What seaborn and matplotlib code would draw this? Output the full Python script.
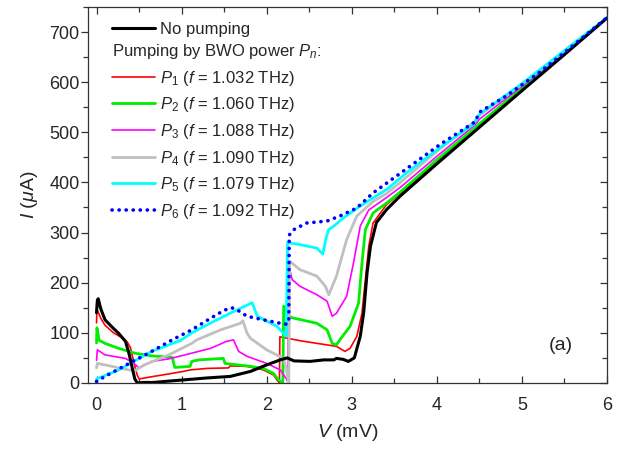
import numpy as np
import pandas as pd
import matplotlib
matplotlib.use("Agg")
import matplotlib.pyplot as plt
from matplotlib.lines import Line2D
from matplotlib.ticker import MultipleLocator
import seaborn as sns

# ---- data (V in mV, I in uA) ----
v_p0 = [0.0, 0.01, 0.02, 0.05, 0.1, 0.18, 0.26, 0.34, 0.38, 0.42, 0.45, 0.48, 0.55, 0.67, 0.8, 1.02, 1.3,
        1.57, 1.81, 2.0, 2.16, 2.24, 2.32, 2.51, 2.67, 2.79, 2.82, 2.9, 2.96, 3.03, 3.1, 3.14, 3.18, 3.22,
        3.29, 3.41, 3.57, 4.0, 4.5, 5.0, 5.5, 6.0]
i_p0 = [140, 165, 168, 148, 126, 112, 99, 83, 60, 30, 8, 0, 1, 1, 3, 6, 10,
        13, 23, 36, 46, 50, 44, 43, 46, 46, 49, 47, 43, 50, 93, 140, 220, 273,
        320, 346, 373, 437, 510, 583, 655, 728]

v_p1 = [0.0, 0.005, 0.05, 0.1, 0.2, 0.3, 0.36, 0.4, 0.44, 0.48, 0.5, 0.67, 0.85, 1.02, 1.1, 1.3, 1.55,
        1.57, 1.77, 1.96, 2.08, 2.12, 2.15, 2.155, 2.22, 2.4, 2.59, 2.82, 2.92, 2.98, 3.06, 3.12, 3.16,
        3.2, 3.25, 3.41, 3.57, 4.0, 4.45, 4.5, 5.0, 6.0]
i_p1 = [120, 147, 129, 115, 100, 90, 82, 70, 40, 15, 8, 13, 18, 23, 26, 29, 30,
        34, 33, 26, 16, 6, 0, 92, 90, 84, 79, 73, 63, 69, 93, 139, 206,
        273, 319, 356, 379, 442, 506, 514, 586, 728]

v_p2 = [0.0, 0.005, 0.03, 0.1, 0.26, 0.46, 0.65, 0.89, 0.92, 1.1, 1.12, 1.2, 1.3, 1.49, 1.51, 1.77,
        1.96, 2.08, 2.14, 2.19, 2.2, 2.22, 2.25, 2.3, 2.59, 2.71, 2.77, 2.82, 2.86, 2.98, 3.08, 3.12,
        3.16, 3.25, 3.41, 3.57, 4.0, 4.45, 4.5, 5.0, 6.0]
i_p2 = [80, 110, 85, 79, 69, 59, 54, 51, 31, 33, 43, 46, 47, 49, 39, 34,
        29, 19, 6, 0, 153, 150, 135, 130, 119, 106, 79, 76, 86, 113, 159, 239,
        306, 339, 359, 381, 445, 509, 517, 588, 728]

v_p3 = [0.0, 0.01, 0.1, 0.34, 0.44, 0.5, 0.65, 0.85, 1.04, 1.34, 1.53, 1.61, 1.67, 1.77, 2.0, 2.16,
        2.24, 2.25, 2.26, 2.3, 2.39, 2.59, 2.71, 2.77, 2.82, 2.94, 3.02, 3.1, 3.2, 3.41, 3.57, 4.0,
        4.45, 4.5, 5.0, 6.0]
i_p3 = [45, 66, 56, 49, 39, 30, 43, 48, 56, 69, 83, 86, 63, 53, 39, 26,
        6, 0, 235, 206, 193, 176, 163, 133, 139, 173, 239, 313, 345, 370, 390, 452,
        515, 526, 592, 728]

v_p4 = [0.0, 0.01, 0.1, 0.38, 0.45, 0.56, 0.85, 1.12, 1.18, 1.46, 1.69, 1.72, 1.77, 1.81, 2.0, 2.2,
        2.24, 2.26, 2.27, 2.39, 2.59, 2.69, 2.73, 2.82, 2.94, 3.06, 3.25, 3.41, 3.57, 4.0, 4.45, 4.5,
        5.0, 6.0]
i_p4 = [30, 39, 36, 26, 24, 36, 56, 79, 86, 106, 119, 124, 99, 89, 66, 49,
        20, 0, 243, 226, 213, 193, 176, 213, 286, 333, 362, 378, 400, 462, 522, 534,
        596, 728]

v_p5 = [0.0, 0.26, 0.65, 0.99, 1.12, 1.38, 1.57, 1.83, 1.89, 2.12, 2.16, 2.23, 2.245, 2.28, 2.39,
        2.59, 2.63, 2.66, 2.7, 2.73, 2.79, 2.9, 3.1, 3.41, 3.65, 4.04, 4.43, 4.5, 5.0, 6.0]
i_p5 = [8, 26, 63, 85, 100, 123, 139, 160, 133, 113, 106, 93, 280, 279, 276,
        269, 262, 257, 290, 306, 313, 329, 353, 386, 420, 470, 516, 536, 597, 729]

v_p6 = [0.0, 0.1, 0.46, 0.65, 0.89, 1.12, 1.34, 1.5, 1.59, 1.65, 1.77, 1.96, 2.16, 2.24, 2.26, 2.265,
        2.32, 2.47, 2.71, 2.86, 3.06, 3.25, 3.65, 4.04, 4.45, 4.5, 4.82, 5.21, 5.6, 6.0]
i_p6 = [3, 13, 46, 63, 86, 106, 129, 145, 150, 146, 133, 126, 119, 117, 126, 295,
        306, 319, 323, 333, 349, 379, 428, 476, 521, 540, 573, 620, 673, 729]

labels = ["No pumping",
          r"$P_1$ ($f$ = 1.032 THz)", r"$P_2$ ($f$ = 1.060 THz)", r"$P_3$ ($f$ = 1.088 THz)",
          r"$P_4$ ($f$ = 1.090 THz)", r"$P_5$ ($f$ = 1.079 THz)", r"$P_6$ ($f$ = 1.092 THz)"]
curves = [(v_p0, i_p0), (v_p1, i_p1), (v_p2, i_p2), (v_p3, i_p3),
          (v_p4, i_p4), (v_p5, i_p5), (v_p6, i_p6)]

colors = ["black", "#ff0000", "#00ee00", "#ff00ff", "#c0c0c0", "#00ffff", "#0000ff"]
widths = [2.2, 1.2, 2.0, 1.2, 2.0, 2.0, 2.6]
dotted = (0, (0.05, 1.9))

# ---- style ----
sns.set_theme(style="ticks")
plt.rcParams["font.family"] = ["Liberation Sans", "DejaVu Sans"]
plt.rcParams["mathtext.fontset"] = "custom"
plt.rcParams["mathtext.rm"] = "Liberation Sans"
plt.rcParams["mathtext.it"] = "Liberation Sans:italic"
plt.rcParams["mathtext.bf"] = "Liberation Sans:bold"

fig = plt.figure(figsize=(6.25, 4.5), dpi=100)
ax = fig.add_axes([0.1408, 0.149, 0.8304, 0.8355])

# draw order: pumped curves, then no-pumping, dotted on top
order = [1, 2, 3, 4, 5, 0, 6]
for k in order:
    v, i = curves[k]
    df = pd.DataFrame({"V": v, "I": i})
    sns.lineplot(data=df, x="V", y="I", sort=False, estimator=None, ax=ax,
                 color=colors[k], lw=widths[k],
                 linestyle=dotted if k == 6 else "-",
                 dash_capstyle="round")

ax.set_xlim(-0.1, 6)
ax.set_ylim(0, 750)
ax.xaxis.set_major_locator(MultipleLocator(1))
ax.xaxis.set_minor_locator(MultipleLocator(0.5))
ax.yaxis.set_major_locator(MultipleLocator(100))
ax.yaxis.set_minor_locator(MultipleLocator(50))

ax.tick_params(which="both", top=True, right=True, color="#333333", labelsize=13)
ax.tick_params(axis="x", which="both", direction="in", pad=10)
ax.tick_params(axis="y", which="both", direction="out", pad=1)
ax.tick_params(axis="y", which="both", right=True)
ax.tick_params(which="major", length=5, width=0.9)
ax.tick_params(which="minor", length=3.5, width=0.9)
for sp in ax.spines.values():
    sp.set_color("#333333")
    sp.set_linewidth(0.9)
# right ticks point inward
for t in ax.yaxis.get_major_ticks() + ax.yaxis.get_minor_ticks():
    t.tick2line.set_marker(matplotlib.lines.TICKLEFT)

ax.set_xlabel(r"$V$ (mV)", fontsize=14, labelpad=6)
ax.set_ylabel(r"$I$ ($\mu$A)", fontsize=14, labelpad=7)

ax.text(5.46, 74, "(a)", fontsize=14, ha="center", va="center")

# ---- legends ----
h0 = [Line2D([], [], color=colors[0], lw=widths[0])]
leg1 = ax.legend(h0, [labels[0]], loc="upper left", bbox_to_anchor=(0.046, 0.96),
                 frameon=False, fontsize=12, handlelength=2.6, handletextpad=0.3,
                 borderpad=0, borderaxespad=0)
ax.add_artist(leg1)
hs = [Line2D([], [], color=colors[k], lw=widths[k],
             linestyle=dotted if k == 6 else "-", dash_capstyle="round") for k in range(1, 7)]
leg2 = ax.legend(hs, labels[1:], loc="upper left", bbox_to_anchor=(0.046, 0.907),
                 frameon=False, fontsize=12, handlelength=2.6, handletextpad=0.3,
                 borderpad=0, borderaxespad=0, labelspacing=0.46,
                 title=r"Pumping by BWO power $P_n$:", title_fontsize=12, alignment="left")

fig.savefig("out.png", dpi=100)
